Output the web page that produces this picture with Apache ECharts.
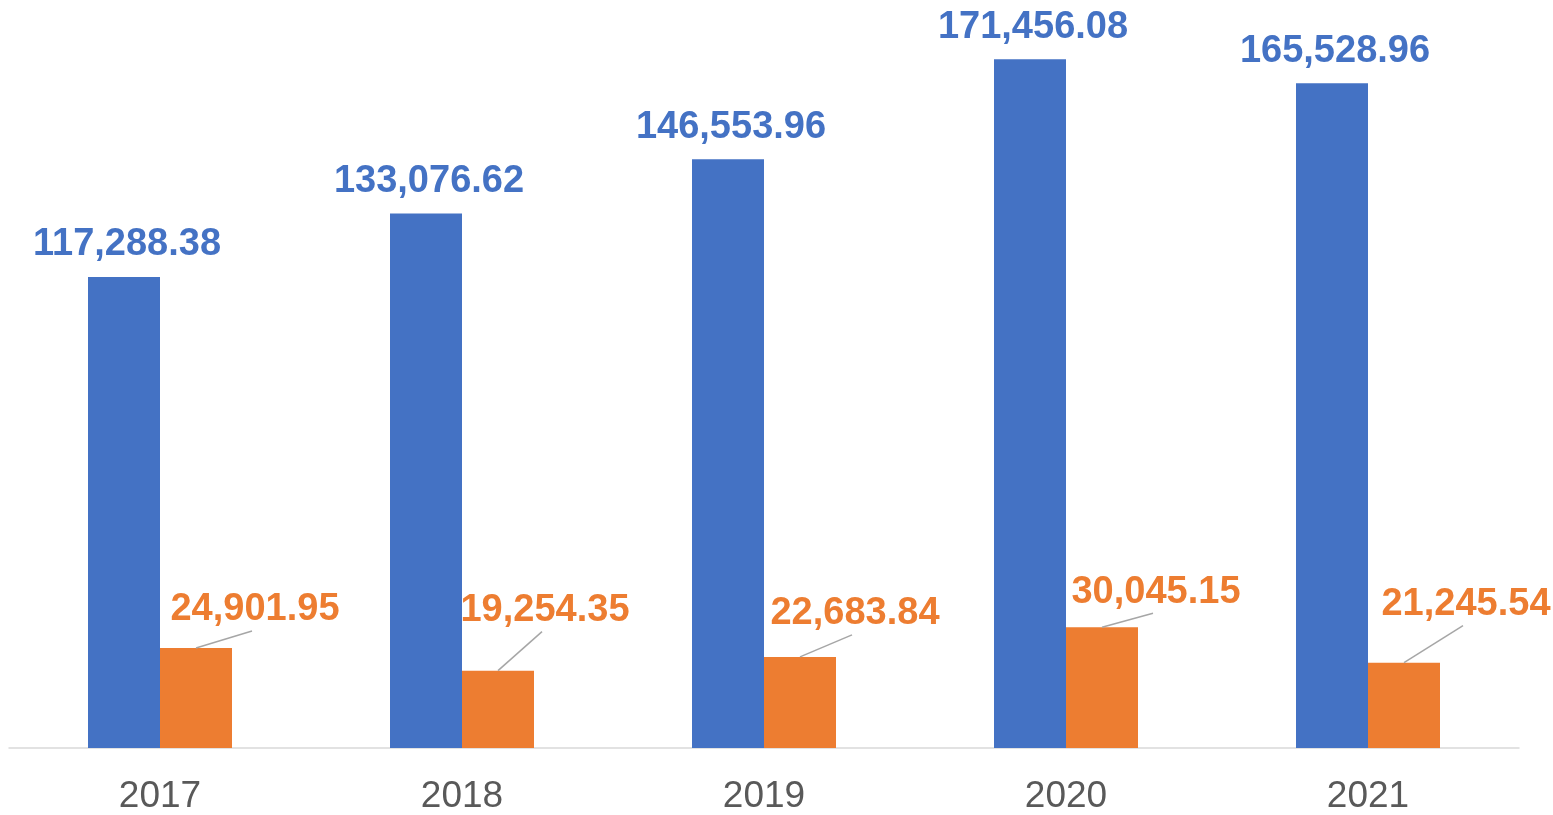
<!DOCTYPE html>
<html>
<head>
<meta charset="utf-8">
<script src="https://cdn.jsdelivr.net/npm/echarts@6/dist/echarts.min.js"></script>
<style>
html,body{margin:0;padding:0;background:#fff;}
#chart{width:1553px;height:815px;}
</style>
</head>
<body>
<div id="chart"></div>
<script>
const categories = ['2017', '2018', '2019', '2020', '2021'];
const blueValues = [117288.38, 133076.62, 146553.96, 171456.08, 165528.96];
const orangeValues = [24901.95, 19254.35, 22683.84, 30045.15, 21245.54];

// style: manual label offsets (px) of the orange labels relative to bar top centre
const orangeLabelOffsets = [[59, -40], [47, -62], [55, -45], [54, -37], [62, -60]];

const BAR_W = 72;
const LABEL_FONT = 'bold 38px "Liberation Sans", Arial, sans-serif';
const fmt = v => v.toLocaleString('en-US', {minimumFractionDigits: 2, maximumFractionDigits: 2});

const chart = echarts.init(document.getElementById('chart'));
chart.setOption({
  animation: false,
  backgroundColor: '#ffffff',
  grid: {left: 9, right: 34, top: 25, bottom: 65, containLabel: false},
  xAxis: {
    type: 'category',
    data: categories,
    axisLine: {show: true, lineStyle: {color: '#D9D9D9', width: 1.5}},
    axisTick: {show: false},
    axisLabel: {
      color: '#595959',
      fontSize: 37,
      fontFamily: '"Liberation Sans", Arial, sans-serif',
      margin: 30
    }
  },
  yAxis: {
    type: 'value',
    min: 0,
    max: 180000,
    show: false,
    splitLine: {show: false}
  },
  series: [
    {
      type: 'bar',
      name: 'blue',
      data: blueValues,
      barWidth: BAR_W,
      barGap: '0%',
      itemStyle: {color: '#4472C4'},
      label: {
        show: true,
        position: 'top',
        distance: 13,
        offset: [3, 0],
        color: '#4472C4',
        fontSize: 38,
        fontWeight: 'bold',
        fontFamily: '"Liberation Sans", Arial, sans-serif',
        formatter: p => fmt(p.value)
      }
    },
    {
      type: 'bar',
      name: 'orange',
      data: orangeValues,
      barWidth: BAR_W,
      barGap: '0%',
      itemStyle: {color: '#ED7D31'},
      label: {show: false}
    },
    {
      type: 'custom',
      name: 'orangeLabels',
      coordinateSystem: 'cartesian2d',
      data: orangeValues.map((v, i) => [i, v]),
      z: 5,
      silent: true,
      renderItem: function (params, api) {
        const i = api.value(0);
        const v = api.value(1);
        const pt = api.coord([i, v]);
        const cx = pt[0] + BAR_W / 2;
        const top = pt[1];
        const off = orangeLabelOffsets[i];
        const lx = cx + off[0];
        const ly = top + off[1];
        return {
          type: 'group',
          children: [
            {
              type: 'line',
              shape: {x1: cx, y1: top, x2: lx - 3, y2: ly + 23},
              style: {stroke: '#A6A6A6', lineWidth: 1.5}
            },
            {
              type: 'text',
              style: {
                text: fmt(v),
                x: lx,
                y: ly + 2,
                align: 'center',
                verticalAlign: 'middle',
                font: LABEL_FONT,
                fill: '#ED7D31'
              }
            }
          ]
        };
      }
    }
  ]
});
</script>
</body>
</html>
